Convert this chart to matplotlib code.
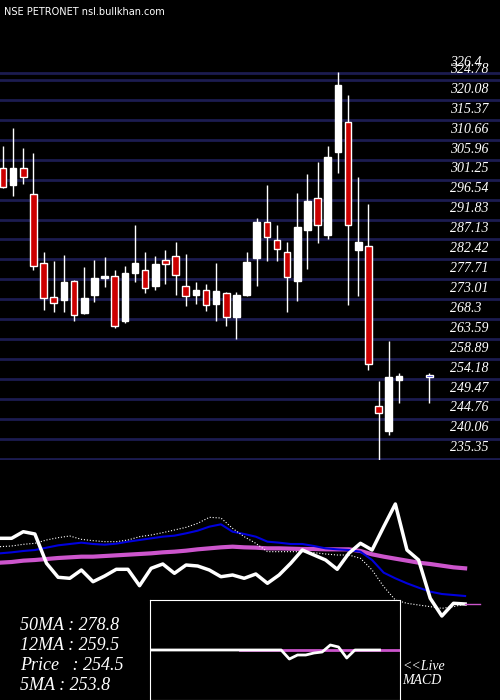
import matplotlib.pyplot as plt
import numpy as np

# OHLC
opens = [304.1, 299.9, 304.1, 297.8, 281.5, 273.5, 272.8, 277.3, 269.7, 274.0, 277.9, 278.4, 267.8, 279.2,
         279.9, 276.1, 282.2, 283.2, 276.1, 274.0, 275.2, 271.9, 274.4, 268.8, 274.0, 282.7, 291.2, 286.9,
         284.1, 277.3, 289.3, 297.0, 288.1, 307.9, 314.9, 284.6, 285.5, 247.8, 241.9, 253.9, 254.5]
closes = [299.6, 304.1, 302.0, 280.8, 273.3, 272.1, 277.0, 269.3, 273.3, 278.0, 278.4, 266.7, 279.2, 281.5,
          275.6, 281.3, 281.3, 278.7, 273.7, 275.2, 271.6, 274.9, 268.8, 274.0, 281.7, 291.2, 287.6, 284.8,
          278.2, 290.0, 296.1, 290.5, 306.7, 323.7, 290.5, 286.5, 257.7, 246.2, 254.7, 254.8, 254.5]
highs = [309.1, 313.5, 308.8, 307.6, 284.1, 282.0, 283.4, 277.5, 280.6, 282.2, 282.9, 279.9, 280.8, 290.5,
         284.1, 283.2, 284.6, 286.5, 283.6, 277.0, 276.6, 281.5, 274.7, 274.7, 284.1, 292.1, 299.9, 290.5,
         286.5, 298.0, 302.5, 305.5, 309.1, 326.7, 321.3, 302.0, 295.6, 253.7, 263.1, 255.6, 255.6]
lows = [299.4, 297.5, 300.3, 279.9, 270.4, 270.0, 270.0, 267.8, 269.5, 272.3, 275.9, 266.2, 267.4, 277.0,
        274.4, 275.1, 276.6, 274.0, 271.4, 271.9, 270.2, 267.8, 266.7, 263.6, 273.7, 276.1, 282.0, 282.0,
        270.0, 272.6, 280.1, 286.2, 287.2, 302.9, 271.6, 273.7, 256.3, 235.1, 240.8, 248.5, 248.5]
positions = list(range(40)) + [42]

levels = [235.35, 240.06, 244.76, 249.47, 254.18, 258.89, 263.59, 268.3, 273.01, 277.71, 282.42, 287.13,
          291.83, 296.54, 301.25, 305.96, 310.66, 315.37, 320.08, 324.78, 326.4]
level_labels = ['235.35', '240.06', '244.76', '249.47', '254.18', '258.89', '263.59', '268.3', '273.01',
                '277.71', '282.42', '287.13', '291.83', '296.54', '301.25', '305.96', '310.66', '315.37',
                '320.08', '324.78', '326.4']

# indicator panel (pixel-like levels, larger = lower)
rsi = [538.3, 538.3, 531.7, 534, 563.3, 577.3, 578.3, 570, 581.7, 576, 569.3, 569.3, 585.7, 568.3, 564,
       573.3, 565, 566, 570, 576.7, 575, 578.3, 574, 583.3, 575, 563.3, 550, 555, 560, 569.3, 553.3, 543.3,
       550, 526.7, 504, 550, 560, 598.3, 616, 603.3, 604]
blue = [190, 187, 183, 180, 173, 166, 162, 158, 162, 164, 161, 155, 150, 145, 140, 137, 130, 122, 110, 103,
        125, 132, 140, 155, 158, 162, 162, 168, 175, 178, 180, 185, 210, 248, 265, 280, 293, 305, 312, 315, 318]
pink = [218, 216, 212, 210, 207, 204, 202, 200, 200, 198, 196, 194, 192, 190, 187, 185, 182, 178, 175, 172,
        170, 172, 173, 175, 175, 176, 177, 177, 178, 178, 178, 183, 193, 200, 206, 212, 218, 222, 227, 232, 235]
dotted = [170, 168, 163, 160, 150, 143, 138, 148, 152, 155, 155, 150, 140, 135, 128, 120, 112, 100, 82, 84,
          115, 140, 160, 185, 185, 185, 185, 188, 192, 195, 195, 205, 240, 290, 330, 340, 345, 350, 355, 350, 342]

macd = [0, 0, 0, 0, 0, 0, 0, 0, 0, 0, 0, 0, 0, 0, 0, 0, 0, -9, -5, -5, -3, -2, 5, 3, -8, 0, 0, 0, 0]

ma_text = ['50MA : 278.8', '12MA : 259.5', 'Price   : 254.5', '5MA : 253.8']

fig = plt.figure(figsize=(5, 7), dpi=100, facecolor='black')
font = dict(family='Liberation Serif', style='italic', color='white')

# price panel
ax = fig.add_axes([0, 240 / 700, 1, 388 / 700])
ax.set_facecolor('black')
ax.set_xlim(-0.3, 48.97)
ax.set_ylim(235.0, 326.7)
ax.axis('off')
for lv, lab in zip(levels, level_labels):
    ax.axhline(lv, color='#1c1c50', lw=2, zorder=0)
    ax.text(0.9, lv + 1.0, lab, transform=ax.get_yaxis_transform(), fontsize=10, va='bottom', **font)
for i, (x, o, c, h, l) in enumerate(zip(positions, opens, closes, highs, lows)):
    if i == len(opens) - 1:
        col = '#0000cc'
    else:
        col = 'white' if c >= o else '#cc0000'
    ax.vlines(x, l, h, color='white', lw=1, zorder=2)
    ax.bar(x, max(abs(c - o), 0.5), bottom=min(o, c), width=0.65, color=col, edgecolor='white', lw=1, zorder=3)
fig.text(0.008, 0.99, 'NSE PETRONET nsl.bullkhan.com', color='white', fontsize=7, family='DejaVu Sans', va='top')

# indicator panel
ax2 = fig.add_axes([0, 0, 1, 210 / 700])
ax2.set_facecolor('none')
ax2.axis('off')
ax2.set_xlim(0, 43)
ax2.set_ylim(700, 490)
xi = np.arange(len(rsi))
ax2.plot(xi, [490 + v / 3 for v in pink], color='#cc55cc', lw=3)
ax2.plot(xi, [490 + v / 3 for v in blue], color='#0000dd', lw=1.5)
ax2.plot(xi, [490 + v / 3 for v in dotted], color='white', lw=0.8, ls=':')
ax2.plot(xi, rsi, color='white', lw=2.5)
ax2.plot([40, 41.3], [490 + dotted[-1] / 3] * 2, color='#cc55cc', lw=1)
for k, t in enumerate(ma_text):
    ax2.text(1.7, 625 + 20 * k, t, fontsize=13, va='center', **font)
ax2.text(34.6, 666, '<<Live', fontsize=10, va='center', **font)
ax2.text(34.6, 681, 'MACD', fontsize=10, va='center', **font)

# MACD box
ax3 = fig.add_axes([150 / 500, 0, 250 / 500, 100 / 700])
ax3.set_facecolor('black')
ax3.set_xticks([])
ax3.set_yticks([])
for s in ax3.spines.values():
    s.set_color('white')
ax3.set_xlim(0, len(macd) + 1.5)
ax3.set_ylim(-50, 50)
mx = np.arange(len(macd))
ax3.plot([11, len(macd) + 1.5], [0, 0], color='#cc55cc', lw=2)
ax3.plot(mx, macd, color='white', lw=2)

fig.savefig('out.png', dpi=100, facecolor='black')
